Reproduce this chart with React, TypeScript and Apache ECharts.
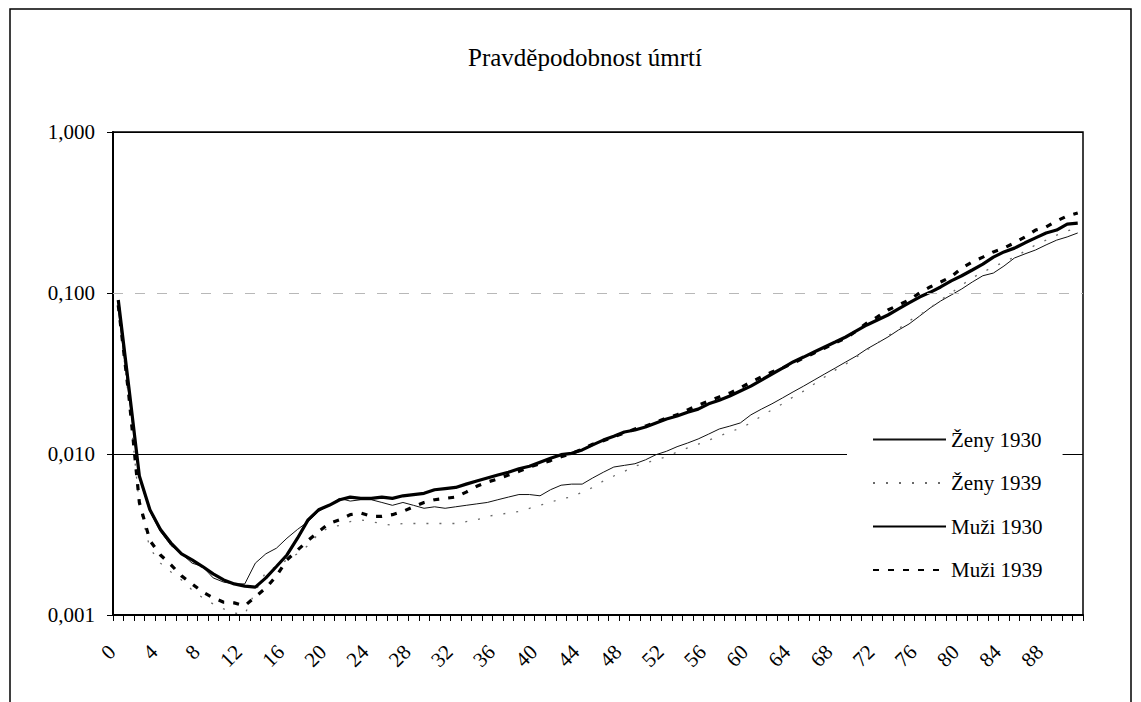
import React, { useEffect, useRef } from "react";
import * as echarts from "echarts";

const ages: string[] = [];
for (let i = 0; i <= 91; i++) ages.push(String(i));

const seriesNames = ["Ženy 1930", "Ženy 1939", "Muži 1930", "Muži 1939"];

const zeny1930 = [
  0.078, 0.0233, 0.0071, 0.0044, 0.0033, 0.0027, 0.0024, 0.0021, 0.002, 0.0017,
  0.0016, 0.00156, 0.00156, 0.0021, 0.0024, 0.0026, 0.003, 0.0034, 0.0038, 0.0044,
  0.0048, 0.0053, 0.0051, 0.0052, 0.0052, 0.005, 0.0048, 0.005, 0.0048, 0.0046,
  0.0047, 0.0046, 0.0047, 0.0048, 0.0049, 0.005, 0.0052, 0.0054, 0.0056, 0.0056,
  0.0055, 0.006, 0.0064, 0.0065, 0.0065, 0.0071, 0.0077, 0.0083, 0.0085, 0.0087,
  0.0092, 0.0099, 0.0104, 0.0111, 0.0117, 0.0124, 0.0133, 0.0143, 0.0149, 0.0156,
  0.0175, 0.019, 0.0205, 0.0223, 0.0243, 0.0264, 0.0288, 0.0314, 0.0342, 0.0373,
  0.0406, 0.0449, 0.0489, 0.0533, 0.0589, 0.0642, 0.0719, 0.0807, 0.0892, 0.0972,
  0.106, 0.117, 0.128, 0.133, 0.147, 0.165, 0.175, 0.185, 0.199, 0.213,
  0.223, 0.236,
];

const zeny1939 = [
  0.08, 0.0216, 0.0048, 0.0026, 0.0021, 0.00185, 0.00165, 0.00143, 0.00128, 0.00117,
  0.00109, 0.00103, 0.00101, 0.0014, 0.00185, 0.002, 0.0022, 0.0024, 0.0027, 0.0032,
  0.0035, 0.0036, 0.0038, 0.0039, 0.0038, 0.0037, 0.0036, 0.0037, 0.0037, 0.0037,
  0.0037, 0.0037, 0.0037, 0.0038, 0.0039, 0.0041, 0.0042, 0.0043, 0.0044, 0.0046,
  0.0048, 0.005, 0.0053, 0.0054, 0.0058, 0.0062, 0.0068, 0.0073, 0.0078, 0.0084,
  0.0088, 0.0092, 0.0096, 0.0103, 0.0109, 0.0115, 0.0122, 0.0129, 0.0137, 0.0145,
  0.0156, 0.0172, 0.0188, 0.0205, 0.0226, 0.0246, 0.0272, 0.0301, 0.0332, 0.0362,
  0.04, 0.0443, 0.0489, 0.0541, 0.0597, 0.067, 0.073, 0.0807, 0.0905, 0.1,
  0.112, 0.124, 0.135, 0.145, 0.156, 0.167, 0.182, 0.199, 0.213, 0.229,
  0.243, 0.254,
];

const muzi1930 = [
  0.0905, 0.0261, 0.0073, 0.0045, 0.0034, 0.0028, 0.0024, 0.0022, 0.002, 0.0018,
  0.00165, 0.00156, 0.00151, 0.00149, 0.0017, 0.002, 0.00236, 0.003, 0.0039, 0.0045,
  0.0048, 0.0052, 0.0054, 0.0053, 0.0053, 0.0054, 0.0053, 0.0055, 0.0056, 0.0057,
  0.006, 0.0061, 0.0062, 0.0065, 0.0068, 0.0071, 0.0074, 0.0077, 0.0081, 0.0084,
  0.0089, 0.0094, 0.0099, 0.0101, 0.0106, 0.0114, 0.0122, 0.0129, 0.0137, 0.0141,
  0.0147, 0.0156, 0.0165, 0.0172, 0.0182, 0.019, 0.0205, 0.0216, 0.0229, 0.0246,
  0.0264, 0.0288, 0.0314, 0.0342, 0.0373, 0.04, 0.043, 0.0462, 0.0496, 0.0533,
  0.0581, 0.0633, 0.068, 0.073, 0.0796, 0.0867, 0.0944, 0.101, 0.109, 0.119,
  0.128, 0.139, 0.151, 0.167, 0.18, 0.19, 0.205, 0.22, 0.236, 0.246,
  0.268, 0.272,
];

const muzi1939 = [
  0.084, 0.0232, 0.005, 0.0029, 0.00236, 0.00205, 0.00175, 0.00156, 0.00139, 0.00128,
  0.0012, 0.00119, 0.00114, 0.0013, 0.00147, 0.00175, 0.0022, 0.00253, 0.0029, 0.0033,
  0.0037, 0.0039, 0.0042, 0.0043, 0.0041, 0.0041, 0.0042, 0.0044, 0.0047, 0.005,
  0.0052, 0.0053, 0.0054, 0.0058, 0.0063, 0.0067, 0.007, 0.0074, 0.0078, 0.0083,
  0.0087, 0.0091, 0.0096, 0.0101, 0.0107, 0.0115, 0.0121, 0.0128, 0.0135, 0.0143,
  0.0149, 0.0158, 0.0167, 0.0175, 0.0188, 0.0201, 0.0213, 0.0226, 0.0239, 0.0257,
  0.028, 0.0301, 0.0323, 0.0342, 0.0367, 0.0395, 0.0424, 0.0455, 0.0489, 0.0525,
  0.0581, 0.0651, 0.071, 0.0784, 0.0842, 0.0905, 0.1, 0.109, 0.117, 0.126,
  0.143, 0.156, 0.167, 0.18, 0.19, 0.205, 0.223, 0.246, 0.257, 0.28,
  0.301, 0.314,
];

const faintGridValue = 0.1;

const FONT = "'Liberation Serif', 'Times New Roman', serif";

export default function App() {
  const ref = useRef<HTMLDivElement>(null);

  useEffect(() => {
    if (!ref.current) return;
    const chart = echarts.init(ref.current, undefined, { renderer: "svg" });
    chart.setOption({
      animation: false,
      backgroundColor: "#fff",
      textStyle: { fontFamily: FONT, color: "#000" },
      title: {
        text: "Pravděpodobnost úmrtí",
        left: 580,
        textAlign: "center",
        top: 40,
        textStyle: { fontFamily: FONT, fontSize: 25, fontWeight: "normal", color: "#000" },
      },
      graphic: [
        {
          type: "rect",
          shape: { x: 10, y: 9, width: 1121, height: 720 },
          style: { fill: "none", stroke: "#000", lineWidth: 1.5 },
          silent: true,
        },
      ],
      legend: {
        orient: "vertical",
        left: 847,
        top: 421,
        padding: [8, 20, 8, 25],
        backgroundColor: "#fff",
        itemWidth: 73,
        itemHeight: 20,
        itemGap: 22.5,
        data: seriesNames,
        itemStyle: { opacity: 0 },
        textStyle: { fontFamily: FONT, fontSize: 21, color: "#000" },
      },
      grid: {
        left: 113,
        top: 132,
        right: 58,
        bottom: 87,
        show: true,
        borderColor: "#000",
        borderWidth: 1.5,
        backgroundColor: "transparent",
      },
      xAxis: {
        type: "category",
        data: ages,
        boundaryGap: true,
        axisLine: { lineStyle: { color: "#000", width: 2 } },
        axisTick: { show: true, interval: 0, length: 6, lineStyle: { color: "#000", width: 1 } },
        axisLabel: {
          interval: 3,
          rotate: 45,
          margin: 27,
          padding: [0, 9, 0, 0],
          fontFamily: FONT,
          fontSize: 21,
          color: "#000",
        },
        splitLine: { show: false },
      },
      yAxis: {
        type: "log",
        logBase: 10,
        min: 0.001,
        max: 1,
        axisLine: { show: true, lineStyle: { color: "#000", width: 2 } },
        axisTick: { show: true, length: 6, lineStyle: { color: "#000", width: 1 } },
        axisLabel: {
          margin: 18,
          fontFamily: FONT,
          fontSize: 21,
          color: "#000",
          formatter: (v: number) => v.toFixed(3).replace(".", ","),
        },
        splitLine: {
          show: true,
          lineStyle: { color: ["#000", "#000", "transparent", "#000"], width: 1 },
        },
      },
      series: [
        {
          name: seriesNames[0],
          type: "line",
          data: zeny1930,
          showSymbol: false,
          symbol: "none",
          lineStyle: { color: "#111", width: 1, type: "solid" },
          itemStyle: { color: "#111" },
          markLine: {
            silent: true,
            symbol: "none",
            label: { show: false },
            lineStyle: { color: "#b8b8b8", width: 1, type: [10, 12] },
            data: [{ yAxis: faintGridValue }],
          },
        },
        {
          name: seriesNames[1],
          type: "line",
          data: zeny1939,
          showSymbol: false,
          symbol: "none",
          lineStyle: { color: "#6a6a6a", width: 1.3, type: [2, 11] },
          itemStyle: { color: "#6a6a6a" },
        },
        {
          name: seriesNames[2],
          type: "line",
          data: muzi1930,
          showSymbol: false,
          symbol: "none",
          lineStyle: { color: "#000", width: 3.2, type: "solid" },
          itemStyle: { color: "#000" },
        },
        {
          name: seriesNames[3],
          type: "line",
          data: muzi1939,
          showSymbol: false,
          symbol: "none",
          lineStyle: { color: "#000", width: 3.2, type: [6, 9] },
          itemStyle: { color: "#000" },
        },
      ],
    });
    return () => chart.dispose();
  }, []);

  return (
    <div
      style={{ position: "fixed", left: 0, top: 0, width: 1141, height: 702, background: "#fff" }}
    >
      <div ref={ref} style={{ width: 1141, height: 702 }} />
    </div>
  );
}
